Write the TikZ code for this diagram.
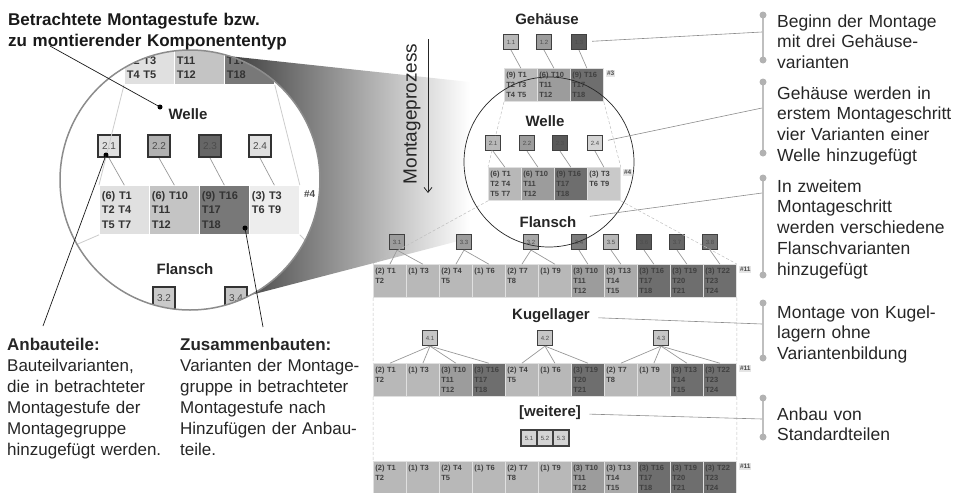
\documentclass[tikz,border=0pt]{standalone}
\usepackage{fontspec}
\setmainfont{Liberation Sans}
\usetikzlibrary{
	calc,
	arrows.meta,
	matrix,
}
\definecolor{hell}{gray}{0.72}
\definecolor{mittel}{gray}{0.61}
\definecolor{dunkel}{gray}{0.43}
\definecolor{zhell}{gray}{0.88}
\definecolor{zmittel}{gray}{0.77}
\definecolor{zdunkel}{gray}{0.47}

\begin{document}
\begin{tikzpicture}[x=1pt, y=-1pt,
	zeile/.style={
                    matrix of nodes,
                    anchor=north west,
                    inner sep=0pt,
                    column sep=-\pgflinewidth,
                    nodes={fill=hell, draw=black!12, line width=.4pt, text width=29pt, inner sep=2pt,
                        minimum height=33pt, align=left, text=black!75, font=\bfseries\fontsize{7.5}{10}\selectfont},
                },
	zzeile/.style={zeile, nodes={fill=zhell, draw=white, text width=45pt, inner sep=2.5pt,
                        minimum height=49pt, text=black!80, font=\bfseries\fontsize{11}{14.5}\selectfont}},
	var/.style={draw=black!75, line width=1.2pt, fill=hell, minimum size=15pt, inner sep=0pt,
                    text=black!70, font=\fontsize{6}{6}\selectfont},
	zvar/.style={var, draw=black!80, line width=2pt, minimum size=22pt, font=\fontsize{10}{10}\selectfont},
	stufe/.style={text=black!85, font=\bfseries\fontsize{15}{15}\selectfont},
	anzahl/.style={anchor=north west, fill=black!10, inner sep=1pt, text=black!70, font=\bfseries\fontsize{6.5}{7}\selectfont},
	verb/.style={draw=black!40, line width=.7pt},
	trichter/.style={draw=black!25, densely dashed, line width=.5pt},
	hinweis/.style={draw=black!45, line width=.6pt, shorten <=5pt},
	leiste/.style={draw=black!25, line width=2pt},
	punkt/.style={circle, fill=black, inner sep=0pt, minimum size=5pt},
	zeiger/.style={draw=black!90, line width=.7pt},
	erkl/.style={anchor=base west, text width=180pt, align=left, inner sep=0pt, text=black!85,
                    font=\fontsize{17.5}{20.8}\selectfont},
	]
\useasboundingbox (0,0) rectangle (954,493);

\shade[left color=black!85, right color=white] (200,53) -- (470,82) -- (470,238) -- (220,303) -- cycle;
\fill[white] (190,180) circle (130pt);

\node[stufe] (s1) at (547,19) {Gehäuse};
\node[var] (v11) at (511,42) {1.1};
\node[var, fill=mittel] (v12) at (544,42) {1.2};
\node[var, fill=black!65] (v13) at (579,42) {1.3};
\matrix (geh) [zeile] at (504,68) {
                 {(9) T1\\T2 T3\\T4 T5} & |[fill=mittel]| {(6) T10\\T11\\T12} & |[fill=dunkel]| {(9) T16\\T17\\T18} \\
                };
\node[anzahl] (n3) at ([shift={(2,2)}]geh.north east) {\#3};

\node[stufe] (s2) at (545,121) {Welle};
\node[var] (v21) at (493,143) {2.1};
\node[var, fill=mittel] (v22) at (527,143) {2.2};
\node[var, fill=black!65] (v23) at (560,143) {2.3};
\node[var, fill=hell!60!white] (v24) at (595,143) {2.4};
\matrix (wel) [zeile] at (488,167) {
                 {(6) T1\\T2 T4\\T5 T7} & |[fill=mittel]| {(6) T10\\T11\\T12} & |[fill=dunkel]| {(9) T16\\T17\\T18} & |[fill=hell!75!white]| {(3) T3\\T6 T9\\~} \\
                };
\node[anzahl] (n4) at ([shift={(2,2)}]wel.north east) {\#4};

\node[stufe] (s3) at (548,222) {Flansch};
\node[var, fill=mittel] (v31) at (397,242) {3.1};
\node[var, fill=mittel] (v33) at (464,242) {3.3};
\node[var, fill=mittel!60!hell] (v32) at (531,242) {3.2};
\node[var, fill=mittel!80!black] (v34) at (579,242) {3.4};
\node[var, fill=hell] (v35) at (611,242) {3.5};
\node[var, fill=black!65] (v36) at (644,242) {3.6};
\node[var, fill=black!60] (v37) at (677,242) {3.7};
\node[var, fill=black!55] (v38) at (710,242) {3.8};
\matrix (fla) [zeile] at (373,264) {
                 {(2) T1\\T2\\~} & {(1) T3\\~\\~} & {(2) T4\\T5\\~} & {(1) T6\\~\\~} & {(2) T7\\T8\\~} & {(1) T9\\~\\~} &
                 |[fill=mittel]| {(3) T10\\T11\\T12} & |[fill=mittel!50!hell]| {(3) T13\\T14\\T15} &
                 |[fill=dunkel]| {(3) T16\\T17\\T18} & |[fill=dunkel]| {(3) T19\\T20\\T21} & |[fill=dunkel]| {(3) T22\\T23\\T24} \\
                };
\node[anzahl] (n11a) at ([shift={(2,2)}]fla.north east) {\#11};

\node[stufe] (s4) at (551,316) {Kugellager};
\node[var, fill=hell!80!white] (v41) at (430,338) {4.1};
\node[var, fill=hell!80!white] (v42) at (545,338) {4.2};
\node[var, fill=hell!80!white] (v43) at (661,338) {4.3};
\matrix (kug) [zeile] at (373,363) {
                 {(2) T1\\T2\\~} & {(1) T3\\~\\~} & |[fill=mittel]| {(3) T10\\T11\\T12} & |[fill=dunkel]| {(3) T16\\T17\\T18} &
                 {(2) T4\\T5\\~} & {(1) T6\\~\\~} & |[fill=dunkel]| {(3) T19\\T20\\T21} & {(2) T7\\T8\\~} & {(1) T9\\~\\~} &
                 |[fill=dunkel]| {(3) T13\\T14\\T15} & |[fill=dunkel]| {(3) T22\\T23\\T24} \\
                };
\node[anzahl] (n11b) at ([shift={(2,2)}]kug.north east) {\#11};

\node[stufe] (s5) at (550,413) {[weitere]};
\node[var, fill=hell!60!white, minimum size=16pt] (v51) at (529,438) {5.1};
\node[var, fill=hell!60!white, minimum size=16pt] (v52) at (545,438) {5.2};
\node[var, fill=hell!60!white, minimum size=16pt] (v53) at (561,438) {5.3};
\matrix (wei) [zeile] at (373,461) {
                 {(2) T1\\T2\\~} & {(1) T3\\~\\~} & {(2) T4\\T5\\~} & {(1) T6\\~\\~} & {(2) T7\\T8\\~} & {(1) T9\\~\\~} &
                 |[fill=mittel]| {(3) T10\\T11\\T12} & |[fill=mittel!50!hell]| {(3) T13\\T14\\T15} &
                 |[fill=dunkel]| {(3) T16\\T17\\T18} & |[fill=dunkel]| {(3) T19\\T20\\T21} & |[fill=dunkel]| {(3) T22\\T23\\T24} \\
                };
\node[anzahl] (n11c) at ([shift={(2,2)}]wei.north east) {\#11};

\foreach \i in {1,2,3} \draw[verb] (v1\i.south) -- (geh-1-\i.north);
\foreach \i in {1,...,4} \draw[verb] (v2\i.south) -- (wel-1-\i.north);
\path[verb]
                (v31.south) edge (fla-1-1.north) edge (fla-1-2.north)
                (v33.south) edge (fla-1-3.north) edge (fla-1-4.north)
                (v32.south) edge (fla-1-5.north) edge (fla-1-6.north)
                (v34.south) edge (fla-1-7.north)
                (v35.south) edge (fla-1-8.north)
                (v36.south) edge (fla-1-9.north)
                (v37.south) edge (fla-1-10.north)
                (v38.south) edge (fla-1-11.north);
\foreach \i in {1,...,4} \draw[verb] (v41.south) -- (kug-1-\i.north);
\foreach \i in {5,6,7} \draw[verb] (v42.south) -- (kug-1-\i.north);
\foreach \i in {8,...,11} \draw[verb] (v43.south) -- (kug-1-\i.north);
\draw[trichter] (geh.south west) -- (wel.north west) (geh.south east) -- (wel.north east)
                (wel.south west) -- (fla.north west) (wel.south east) -- (fla.north east)
                (fla.south west) -- (kug.north west) (fla.south east) -- (kug.north east)
                (kug.south west) -- (wei.north west) (kug.south east) -- (wei.north east);

\draw[black!85, line width=.7pt] (549,162) circle (85pt);

\node[rotate=90, text=black!85, font=\fontsize{19}{19}\selectfont] (proz) at (412,114) {Montageprozess};
\coordinate (pa) at (428,39);
\coordinate (pe) at (428,193);
\draw[black!85, line width=.8pt, -{Straight Barb[length=5pt, width=8pt]}] (pa) -- (pe);

\begin{scope}
	\clip (190,180) circle (130pt);
	\matrix (zgeh) [zzeile, anchor=south west, nodes={minimum height=34pt}] at (124,85) {
                 {T2 T3\\T4 T5} & |[fill=zmittel]| {T11\\T12} & |[fill=zdunkel]| {T17\\T18} \\
                };
	\node[stufe] (zs2) at (188,114) {Welle};
	\node[zvar, fill=zhell] (zv21) at (109,146) {2.1};
	\node[zvar, fill=zmittel!90!black] (zv22) at (159,146) {2.2};
	\node[zvar, fill=zdunkel!85!black] (zv23) at (210,146) {2.3};
	\node[zvar, fill=zhell] (zv24) at (260,146) {2.4};
	\matrix (zwel) [zzeile] at (99,185) {
                 {(6) T1\\T2 T4\\T5 T7} & |[fill=zmittel]| {(6) T10\\T11\\T12} & |[fill=zdunkel]| {(9) T16\\T17\\T18} & |[fill=zhell!60!white]| {(3) T3\\T6 T9\\~} \\
                };
	\node[anzahl, fill=none, font=\bfseries\fontsize{10}{10}\selectfont] (zn4) at ([shift={(3,4)}]zwel.north east) {\#4};
	\foreach \i in {1,...,4} \draw[verb] (zv2\i.south) -- (zwel-1-\i.north);
	\coordinate (zl) at (20,269);
	\coordinate (zr) at (330,265);
	\draw[black!20, line width=.8pt] (zgeh.south west) -- (zwel.north west) (zgeh.south east) -- (zwel.north east)
                (zwel.south west) -- (zl) (zwel.south east) -- (zr);
	\node[stufe] (zs3) at (185,269) {Flansch};
	\node[zvar, fill=zhell!90!black] (zv32) at (164,298) {3.2};
	\node[zvar, fill=zmittel] (zv34) at (236,298) {3.4};
\end{scope}
\draw[black!45, line width=1.5pt] (190,180) circle (130pt);

\node[erkl, text width=320pt, font=\bfseries\fontsize{17}{21}\selectfont, text=black!90] (titel) at (8,25) {Betrachtete Montagestufe bzw.\\zu montierender Komponententyp};
\node[erkl, font=\fontsize{17}{21}\selectfont] (anb) at (7,350) {\textbf{Anbauteile:}\\Bauteilvarianten,\\die in betrachteter\\Montagestufe der\\Montagegruppe\\hinzugefügt werden.};
\node[erkl, font=\fontsize{17}{21}\selectfont] (zus) at (180,350) {\textbf{Zusammenbauten:}\\Varianten der Montage-\\gruppe in betrachteter\\Montagestufe nach\\Hinzufügen der Anbau-\\teile.};

\node[punkt] (d1) at (160,107) {};
\node[punkt] (d2) at (106,155) {};
\node[punkt] (d3) at (245,228) {};
\coordinate (e1) at (50,46);
\coordinate (e2) at (43,326);
\coordinate (e3) at (263,327);
\draw[zeiger] (e1) -- (d1.center);
\draw[zeiger] (d2.center) -- (e2);
\draw[zeiger] (d3.center) -- (e3);

\foreach \o/\u in {15/60, 82/153, 178/275, 303/358, 398/437} {
	\draw[leiste] (763,\o) -- (763,\u);
	\fill[black!30] (763,\o) circle (3.5pt) (763,\u) circle (3.5pt);
}
\coordinate (b1) at (762,32);
\coordinate (b2) at (762,108);
\coordinate (b3) at (762,193);
\coordinate (b4) at (762,324);
\coordinate (b5) at (762,419);
\draw[hinweis] (v13) -- (b1);
\draw[hinweis] (v24) -- (b2);
\draw[hinweis, shorten <=10pt] (s3) -- (b3);
\draw[hinweis] (s4) -- (b4);
\draw[hinweis] (s5) -- (b5);

\node[erkl] (t1) at (777,27) {Beginn der Montage\\mit drei Gehäuse-\\varianten};
\node[erkl] (t2) at (777,99) {Gehäuse werden in\\erstem Montageschritt\\vier Varianten einer\\Welle hinzugefügt};
\node[erkl] (t3) at (777,192) {In zweitem\\Montageschritt\\werden verschiedene\\Flanschvarianten\\hinzugefügt};
\node[erkl] (t4) at (777,318) {Montage von Kugel-\\lagern ohne\\Variantenbildung};
\node[erkl] (t5) at (777,420) {Anbau von\\Standardteilen};
\end{tikzpicture}
\end{document}
